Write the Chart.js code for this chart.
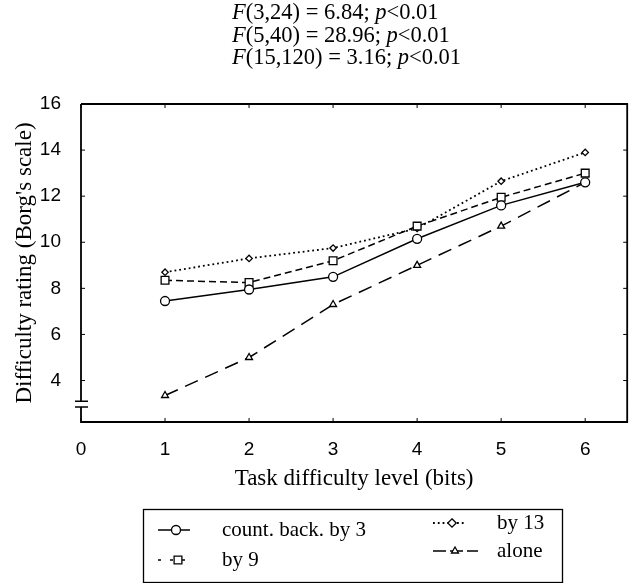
<!DOCTYPE html>
<html>
<head>
<meta charset="utf-8">
<script src="https://cdn.jsdelivr.net/npm/chart.js@4/dist/chart.umd.min.js"></script>
<style>
  body { margin: 0; background: #fff; }
  #wrap { width: 634px; height: 583px; position: relative; }
</style>
</head>
<body>
<div id="wrap"><canvas id="myChart"></canvas></div>
<script>
// data
const levels = [1, 2, 3, 4, 5, 6];
const countBack3 = [7.45, 7.95, 8.5, 10.15, 11.6, 12.6];
const by9 = [8.35, 8.25, 9.2, 10.7, 11.95, 13.0];
const by13 = [8.7, 9.3, 9.75, 10.6, 12.65, 13.9];
const alone = [3.35, 5.0, 7.3, 9.0, 10.7, 12.6];
const xTicks = [0, 1, 2, 3, 4, 5, 6];
const yTicks = [4, 6, 8, 10, 12, 14, 16];
const titleLines = [
  [['F', true], ['(3,24) = 6.84; ', false], ['p', true], ['<0.01', false]],
  [['F', true], ['(5,40) = 28.96; ', false], ['p', true], ['<0.01', false]],
  [['F', true], ['(15,120) = 3.16; ', false], ['p', true], ['<0.01', false]]
];
const legendLabels = ['count. back. by 3', 'by 9', 'by 13', 'alone'];

const serif = '"Liberation Serif", "Times New Roman", serif';
const sans = '"Liberation Sans", Arial, sans-serif';

//turn the arrays into {x,y} points
function toPoints(values) {
  return values.map((v, i) => ({ x: levels[i], y: v }))
}

function makeSet(label, values, style, radius, dash, width) {
  return {
    label: label,
    data: toPoints(values),
    borderColor: '#000',
    borderWidth: width,
    borderDash: dash,
    pointStyle: style,
    pointRadius: radius,
    pointBorderWidth: 1.3,
    pointBorderColor: '#000',
    pointBackgroundColor: '#fff',
    tension: 0,
    fill: false
  }
}

let datasets = [
  makeSet(legendLabels[0], countBack3, 'circle', 4.5, [], 1.5),
  makeSet(legendLabels[1], by9, 'rect', 5.5, [7, 4], 1.5),
  makeSet(legendLabels[2], by13, 'rectRot', 3.2, [1.8, 3], 1.8),
  makeSet(legendLabels[3], alone, 'triangle', 4, [14, 8], 1.5)
];

//little marker drawer for the legend
function marker(ctx, style, r, x, y) {
  ctx.save();
  ctx.setLineDash([]);
  ctx.lineWidth = 1.3;
  ctx.strokeStyle = '#000';
  ctx.fillStyle = '#fff';
  ctx.beginPath();
  if (style == 'circle') ctx.arc(x, y, r, 0, Math.PI * 2);
  else if (style == 'rect') { let s = r * Math.SQRT1_2; ctx.rect(x - s, y - s, 2 * s, 2 * s) }
  else if (style == 'rectRot') { ctx.moveTo(x, y - r); ctx.lineTo(x + r, y); ctx.lineTo(x, y + r); ctx.lineTo(x - r, y); ctx.closePath() }
  else { ctx.moveTo(x, y - r); ctx.lineTo(x + r * 0.87, y + r * 0.5); ctx.lineTo(x - r * 0.87, y + r * 0.5); ctx.closePath() }
  ctx.fill();
  ctx.stroke();
  ctx.restore();
}

const framePlugin = {
  id: 'frame',
  beforeDatasetsDraw(chart) {
    const ctx = chart.ctx;
    const a = chart.chartArea;
    const xs = chart.scales.x, ys = chart.scales.y;
    const b1 = ys.getPixelForValue(3.1), b2 = ys.getPixelForValue(2.85);
    ctx.save();
    ctx.strokeStyle = '#000';
    ctx.lineWidth = 1.8;
    ctx.beginPath();
    // left axis with a break
    ctx.moveTo(a.left, a.top); ctx.lineTo(a.left, b1);
    ctx.moveTo(a.left, b2); ctx.lineTo(a.left, a.bottom);
    ctx.lineTo(a.right, a.bottom);
    ctx.lineTo(a.right, a.top);
    ctx.lineTo(a.left, a.top);
    ctx.stroke();
    // break marks
    ctx.lineWidth = 1.5;
    ctx.beginPath();
    ctx.moveTo(a.left - 6, b1); ctx.lineTo(a.left + 7, b1);
    ctx.moveTo(a.left - 6, b2); ctx.lineTo(a.left + 7, b2);
    ctx.stroke();
    // inward ticks
    ctx.lineWidth = 1;
    ctx.beginPath();
    yTicks.forEach(v => {
      let y = ys.getPixelForValue(v);
      ctx.moveTo(a.left, y); ctx.lineTo(a.left + 4, y);
      ctx.moveTo(a.right, y); ctx.lineTo(a.right - 4, y);
    })
    xTicks.forEach(v => {
      let x = xs.getPixelForValue(v);
      ctx.moveTo(x, a.bottom); ctx.lineTo(x, a.bottom - 4);
      ctx.moveTo(x, a.top); ctx.lineTo(x, a.top + 4);
    })
    ctx.stroke();
    ctx.restore();
  },
  afterDraw(chart) {
    const ctx = chart.ctx;
    ctx.save();
    ctx.fillStyle = '#000';
    ctx.textBaseline = 'alphabetic';
    // title lines, left aligned
    titleLines.forEach((line, i) => {
      let x = 232;
      let y = 19 + i * 22.5;
      line.forEach(part => {
        ctx.font = (part[1] ? 'italic ' : '') + '22.5px ' + serif;
        ctx.fillText(part[0], x, y);
        x += ctx.measureText(part[0]).width;
      })
    })
    // legend box
    ctx.strokeStyle = '#000';
    ctx.lineWidth = 1.3;
    ctx.strokeRect(143.5, 509.5, 419, 73);
    const spots = [
      { x1: 158, x2: 190, mx: 176, ty: 530, tx: 222 },
      { x1: 158, x2: 190, mx: 178, ty: 560, tx: 222 },
      { x1: 433, x2: 464, mx: 452, ty: 523, tx: 497 },
      { x1: 433, x2: 478, mx: 455, ty: 551, tx: 497 }
    ];
    chart.data.datasets.forEach((ds, i) => {
      let s = spots[i];
      ctx.save();
      ctx.lineWidth = ds.borderWidth;
      ctx.setLineDash(i == 3 ? [13, 4] : i == 1 ? [3, 9] : ds.borderDash);
      ctx.beginPath();
      ctx.moveTo(s.x1, s.ty); ctx.lineTo(s.x2, s.ty);
      ctx.stroke();
      ctx.restore();
      marker(ctx, ds.pointStyle, ds.pointRadius + (i == 2 ? 1 : 0), s.mx, s.ty);
      ctx.font = '21px ' + serif;
      ctx.textBaseline = 'middle';
      ctx.fillText(ds.label, s.tx, s.ty);
    })
    ctx.restore();
  }
};

let ctx = document.getElementById('myChart').getContext('2d');
let chart = new Chart(ctx, {
  type: 'line',
  data: { datasets: datasets },
  options: {
    responsive: true,
    maintainAspectRatio: false,
    animation: false,
    layout: { padding: { top: 104, right: 1, left: 0, bottom: 0 } },
    plugins: {
      legend: { display: false },
      tooltip: { enabled: false }
    },
    scales: {
      x: {
        type: 'linear',
        min: 0,
        max: 6.5,
        afterFit: s => { s.height = 161 },
        afterBuildTicks: s => { s.ticks = xTicks.map(v => ({ value: v })) },
        grid: { display: false },
        border: { display: false },
        ticks: { color: '#000', font: { family: sans, size: 19 }, padding: 8, maxRotation: 0 },
        title: { display: true, text: 'Task difficulty level (bits)', color: '#000', font: { family: serif, size: 23 }, padding: { top: 0, bottom: 90 } }
      },
      y: {
        min: 2.2,
        max: 16,
        afterFit: s => { s.width = 81 },
        afterBuildTicks: s => { s.ticks = yTicks.map(v => ({ value: v })) },
        grid: { display: false },
        border: { display: false },
        ticks: { color: '#000', font: { family: sans, size: 19 }, padding: 12 },
        title: { display: true, text: "Difficulty rating (Borg's scale)", color: '#000', font: { family: serif, size: 23 }, padding: { top: 11, bottom: 0 } }
      }
    }
  },
  plugins: [framePlugin]
});
</script>
</body>
</html>
